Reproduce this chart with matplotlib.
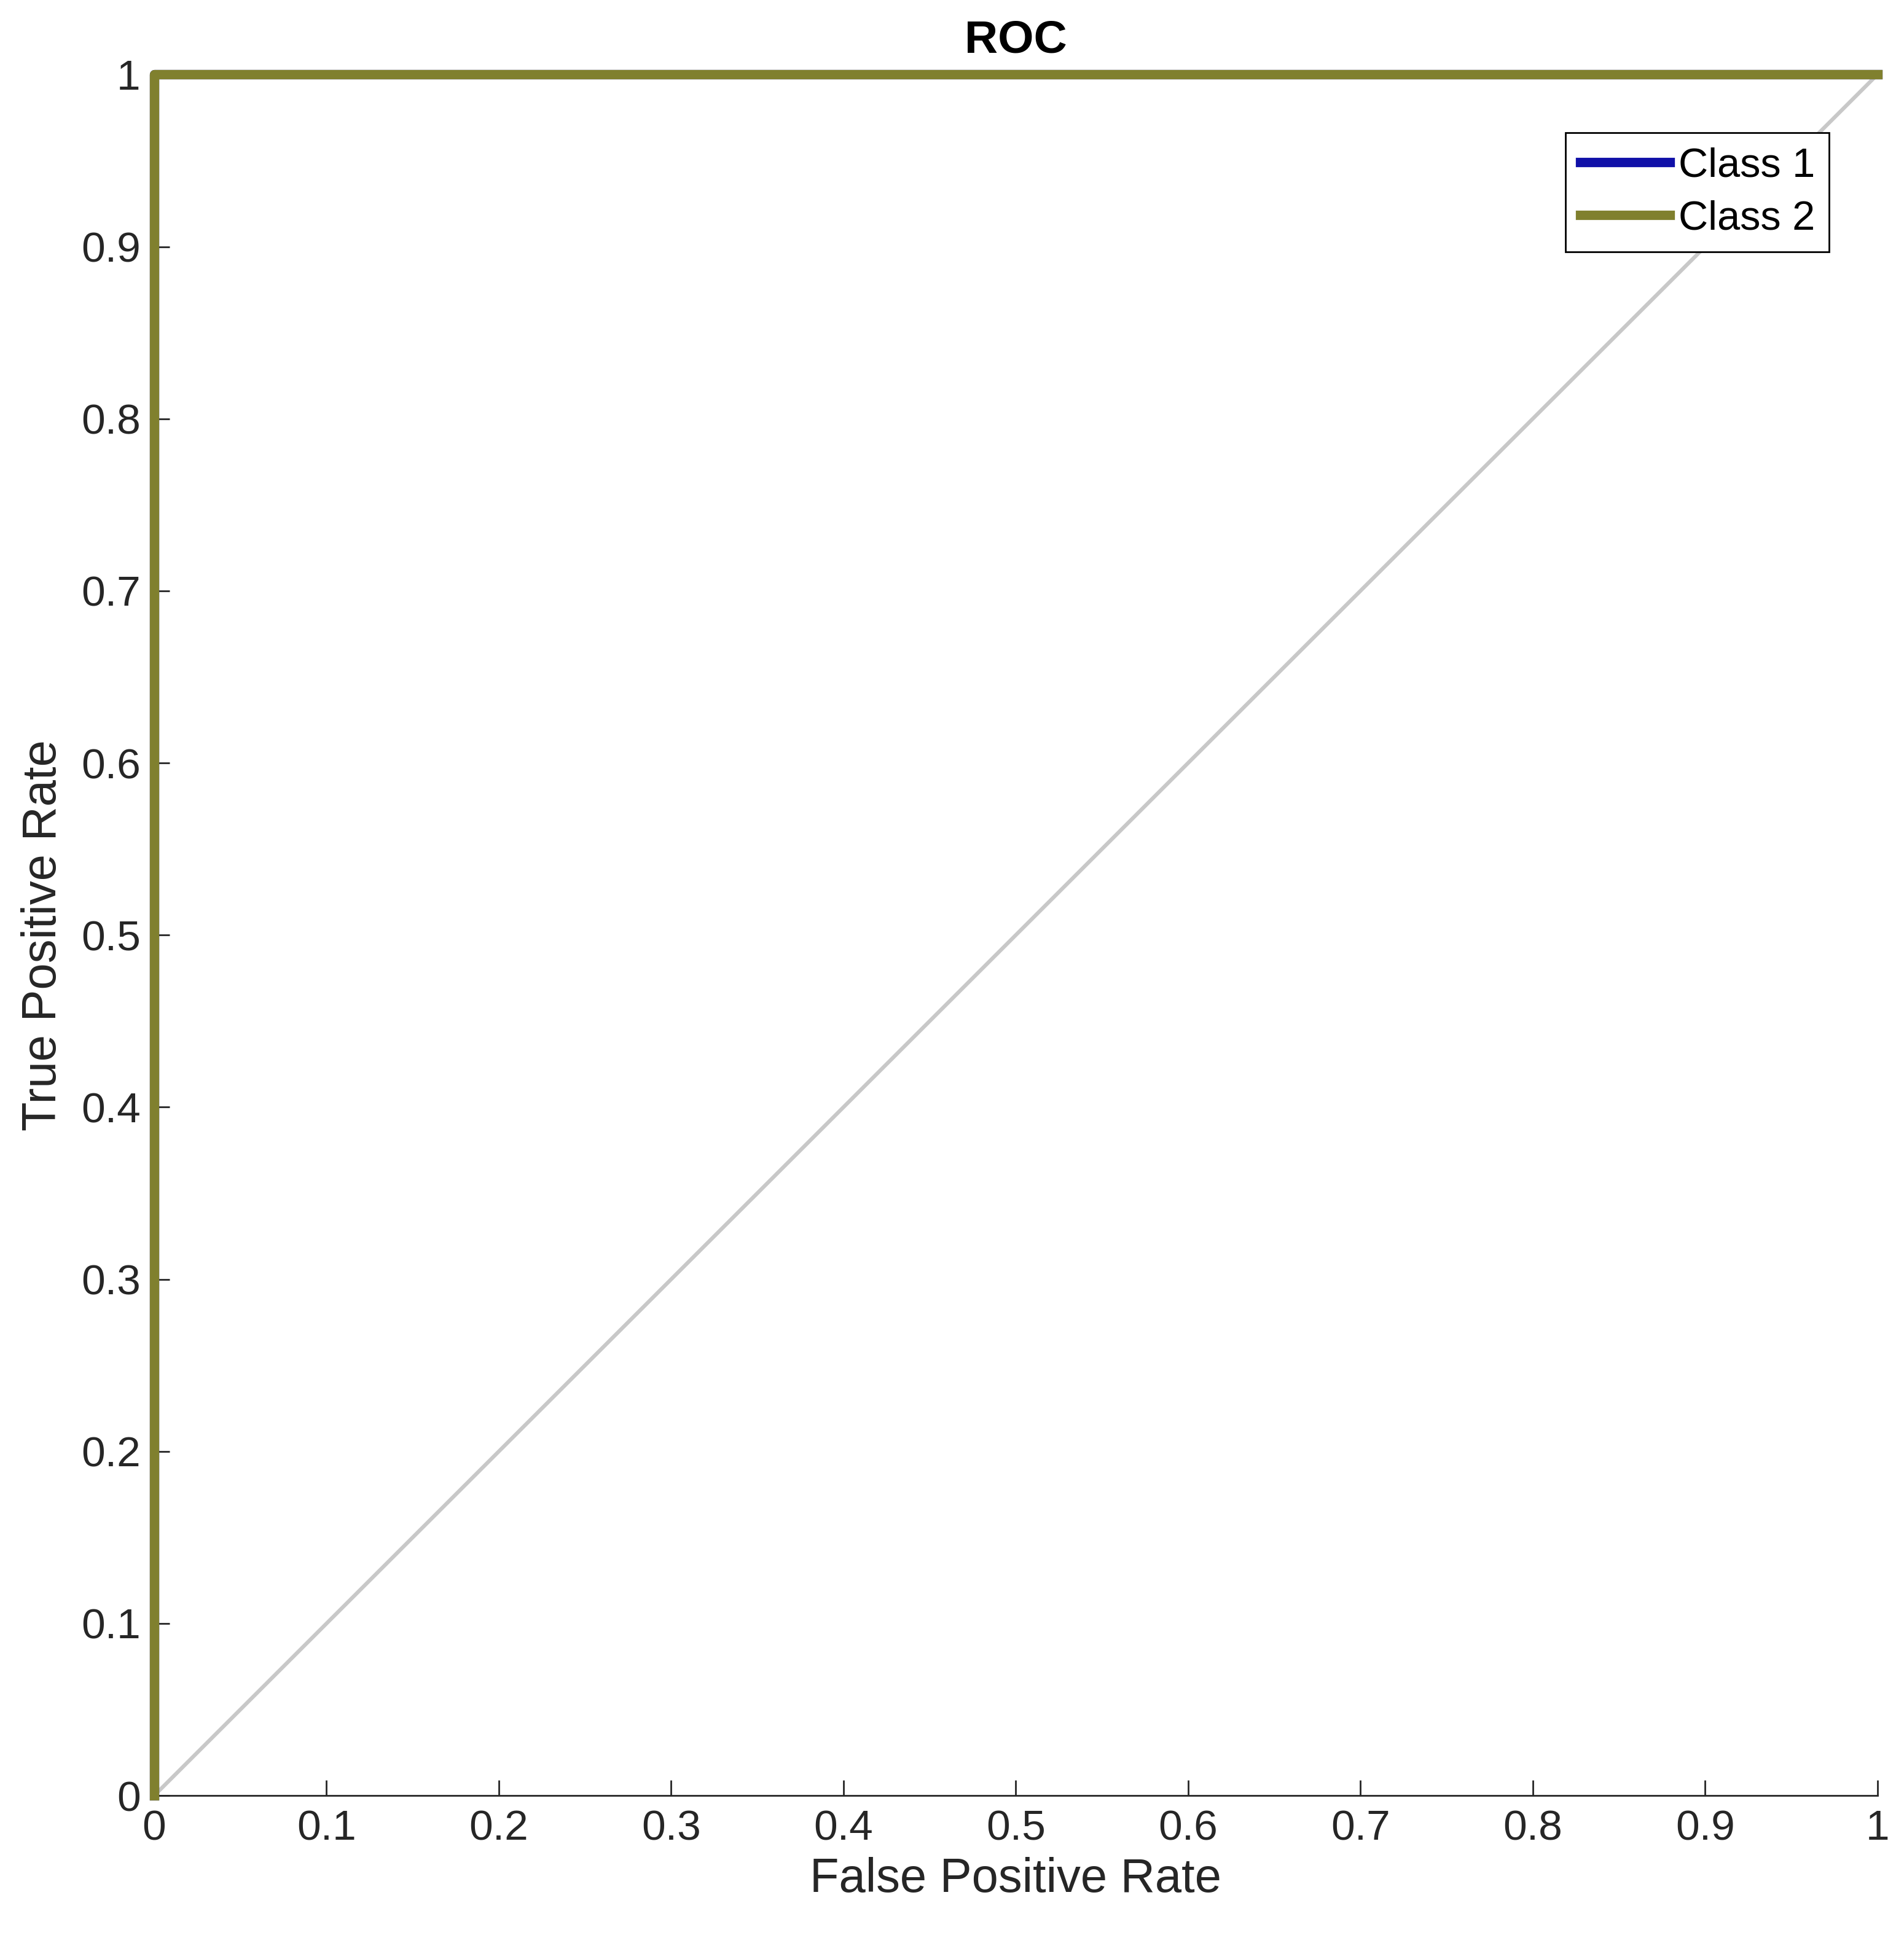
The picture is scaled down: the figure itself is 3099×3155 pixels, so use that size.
import numpy as np
import matplotlib.pyplot as plt

plt.rcParams['font.family'] = ['Liberation Sans', 'DejaVu Sans']

fpr1 = [0, 0, 1]
tpr1 = [0, 1, 1]
fpr2 = [0, 0, 1]
tpr2 = [0, 1, 1]
diag = [0, 1]

fig = plt.figure(figsize=(30.99, 31.55), dpi=100)
ax = fig.add_axes([0.081, 0.0735, 0.905, 0.888])

ax.plot(diag, diag, color='#c8c8c8', lw=4.5, zorder=1)
ax.plot(fpr1, tpr1, color='#1010a8', lw=11, label='Class 1', zorder=2, clip_on=False)
ax.plot(fpr2, tpr2, color='#80802e', lw=11, label='Class 2', zorder=3, clip_on=False)

ax.set_xlim(0, 1)
ax.set_ylim(0, 1)
ticks = np.round(np.arange(0, 1.01, 0.1), 1)
labels = ['0'] + ['%.1f' % t for t in ticks[1:-1]] + ['1']
ax.set_xticks(ticks)
ax.set_xticklabels(labels)
ax.set_yticks(ticks)
ax.set_yticklabels(labels)
ax.tick_params(direction='in', length=18, width=2, labelsize=50, colors='#262626', pad=16)
for s in ['top', 'right']:
    ax.spines[s].set_visible(False)
for s in ['left', 'bottom']:
    ax.spines[s].set_linewidth(2)
    ax.spines[s].set_color('#262626')

ax.set_title('ROC', fontsize=54, fontweight='bold', pad=26)
ax.set_xlabel('False Positive Rate', fontsize=56, color='#262626', labelpad=10)
ax.set_ylabel('True Positive Rate', fontsize=56, color='#262626', labelpad=18)

leg = ax.legend(loc='upper right', bbox_to_anchor=(0.984, 0.978), fontsize=48, fancybox=False,
                framealpha=1, edgecolor='black', handlelength=2.2, borderpad=0.35,
                labelspacing=0.35, handletextpad=0.2)
leg.get_frame().set_linewidth(2)

fig.savefig('out.png')
